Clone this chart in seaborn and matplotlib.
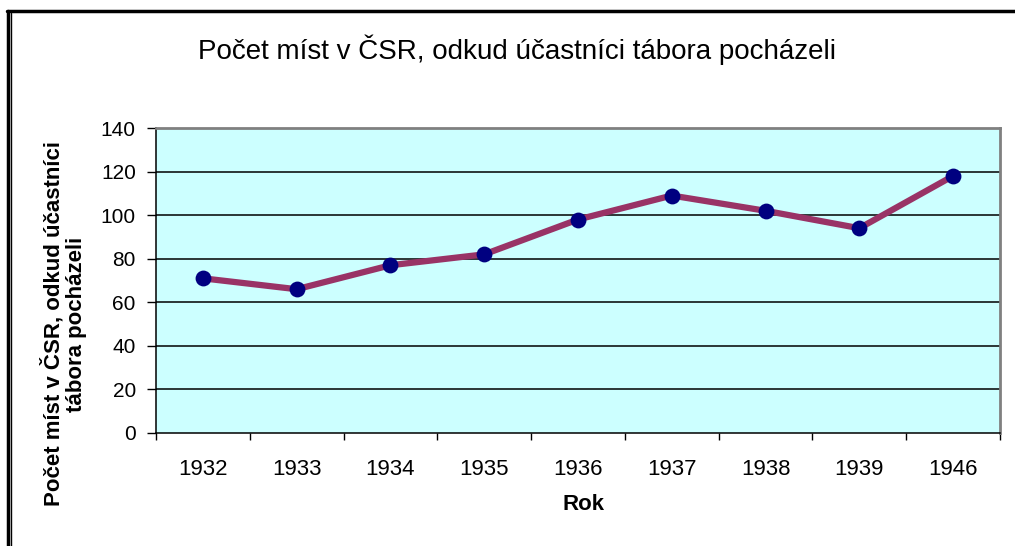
import matplotlib
matplotlib.use("Agg")
import matplotlib.pyplot as plt
from matplotlib.lines import Line2D
import seaborn as sns
import pandas as pd
import numpy as np

years = ["1932", "1933", "1934", "1935", "1936", "1937", "1938", "1939", "1946"]
counts = [71, 66, 77, 82, 98, 109, 102, 94, 118]
y_ticks = [0, 20, 40, 60, 80, 100, 120, 140]

title = "Počet míst v ČSR, odkud účastníci tábora pocházeli"
ylabel = "Počet míst v ČSR, odkud účastníci\ntábora pocházeli"
xlabel = "Rok"

sns.set_style("white")
plt.rcParams["font.family"] = ["Liberation Sans", "DejaVu Sans"]
plt.rcParams["text.color"] = "black"
plt.rcParams["xtick.color"] = "black"
plt.rcParams["ytick.color"] = "black"

df = pd.DataFrame({"pos": np.arange(len(years)), "year": years, "count": counts})

fig = plt.figure(figsize=(10.15, 5.46), dpi=100)
ax = fig.add_axes([156 / 1015, 1 - 433 / 546, (1000 - 156) / 1015, (433 - 128) / 546])
ax.set_facecolor("#CCFFFF")

sns.lineplot(data=df, x="pos", y="count", ax=ax, color="#993366", linewidth=4.5, zorder=3)
sns.scatterplot(data=df, x="pos", y="count", ax=ax, color="#000080", s=130,
                edgecolor="#000080", linewidth=0, zorder=4)

ax.set_xlim(-0.5, len(years) - 0.5)
ax.set_ylim(0, 140)
ax.set_yticks(y_ticks)
ax.set_yticklabels([str(v) for v in y_ticks], fontsize=15)
for v in y_ticks[1:-1]:
    ax.axhline(v, color="black", linewidth=1.1, zorder=1)

ax.set_xticks(np.arange(-0.5, len(years), 1.0))
ax.set_xticklabels([])
ax.set_xticks(np.arange(len(years)), minor=True)
ax.set_xticklabels(years, minor=True, fontsize=16)
ax.tick_params(axis="x", which="major", direction="out", length=5, width=1, color="black", bottom=True)
ax.tick_params(axis="x", which="minor", length=0, pad=19)
ax.tick_params(axis="y", direction="out", length=6.5, width=1, color="black", left=True, pad=8)

for side in ["left", "bottom"]:
    ax.spines[side].set_color("black")
    ax.spines[side].set_linewidth(1.1)
for side in ["top", "right"]:
    ax.spines[side].set_visible(True)
    ax.spines[side].set_color("#808080")
    ax.spines[side].set_linewidth(2)

ax.set_xlabel("")
ax.set_ylabel("")

fig.text(517 / 1015, 1 - 50 / 546, title, ha="center", va="center", fontsize=20)
fig.text(583 / 1015, 1 - 505 / 546, xlabel, ha="center", va="center", fontsize=16, fontweight="bold")
fig.text(64 / 1015, 1 - 324 / 546, ylabel, ha="center", va="center", rotation=90,
         fontsize=16, fontweight="bold", multialignment="center", linespacing=1.05)

# outer chart frame
fig.add_artist(Line2D([7 / 1015, 1.0], [1 - 11 / 546, 1 - 11 / 546], transform=fig.transFigure,
                      color="black", linewidth=2.5))
fig.add_artist(Line2D([8 / 1015, 8 / 1015], [0, 1 - 11 / 546], transform=fig.transFigure,
                      color="black", linewidth=2.5))
fig.add_artist(Line2D([10.5 / 1015, 10.5 / 1015], [0, 1 - 13 / 546], transform=fig.transFigure,
                      color="black", linewidth=1))

fig.savefig("out.png", dpi=100, facecolor="white")
